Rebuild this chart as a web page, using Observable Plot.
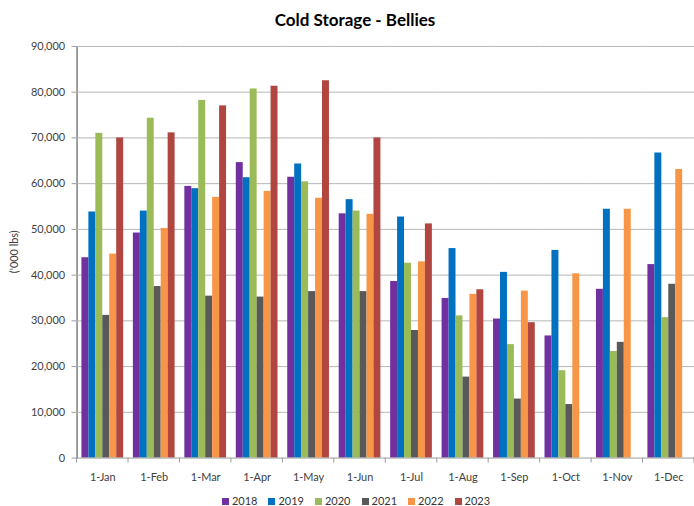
<!DOCTYPE html>
<html><head><meta charset="utf-8">
<script src="https://cdn.jsdelivr.net/npm/d3@7"></script>
<script src="https://cdn.jsdelivr.net/npm/@observablehq/plot@0.6"></script>
<style>
body{margin:0;background:#fff;overflow:hidden;font-family:Lato,"Open Sans",sans-serif;}
#title{width:694px;height:36px;line-height:40px;text-align:center;padding-left:16px;box-sizing:border-box;font-weight:bold;font-size:17px;color:#000;}
#chart svg{display:block;}
#legend{width:694px;padding-left:18px;box-sizing:border-box;display:flex;justify-content:center;gap:11px;font-size:11px;color:#333;height:16px;line-height:16px;margin-top:6px;}
#legend span.item{display:flex;align-items:center;gap:3px;}
#legend span.sw{width:7px;height:7px;display:inline-block;}
</style></head><body>
<div id="title">Cold Storage - Bellies</div>
<div id="chart"></div>
<div id="legend"></div>
<script>
const months = ["1-Jan","1-Feb","1-Mar","1-Apr","1-May","1-Jun","1-Jul","1-Aug","1-Sep","1-Oct","1-Nov","1-Dec"];
const years = ["2018","2019","2020","2021","2022","2023"];
const v2018 = [43800,49200,59400,64600,61400,53400,38600,34900,30400,26700,36900,42300];
const v2019 = [53800,54000,58900,61300,64300,56500,52700,45800,40600,45400,54400,66700];
const v2020 = [71000,74300,78200,80700,60400,54000,42600,31100,24800,19100,23300,30700];
const v2021 = [31200,37500,35400,35200,36400,36400,27900,17700,12900,11700,25300,38000];
const v2022 = [44600,50200,57000,58300,56800,53300,42900,35800,36500,40300,54400,63100];
const v2023 = [70000,71100,77000,81300,82500,70000,51200,36800,29600,null,null,null];
const colors = ["#7030A0","#0070C0","#9BBB59","#595959","#F79646","#B0463F"];
const yTicks = [0,10000,20000,30000,40000,50000,60000,70000,80000,90000];
const yLabel = "('000 lbs)";

const series = [v2018,v2019,v2020,v2021,v2022,v2023];
const data = [];
years.forEach((yr,j) => months.forEach((m,i) => {
  const v = series[j][i];
  if (v != null) data.push({month: m, year: yr, value: v});
}));

const chart = Plot.plot({
  width: 698, height: 454,
  marginTop: 10, marginBottom: 30, marginLeft: 77, marginRight: 0,
  style: {fontFamily: "Lato, 'Open Sans', sans-serif", fontSize: "11px", color: "#404040", background: "#fff"},
  facet: {data, x: "month"},
  fx: {domain: months, padding: 0, round: false, label: null, tickSize: 0, tickPadding: 15, axis: "bottom"},
  x: {domain: years, axis: null, round: false, paddingInner: 0, paddingOuter: 0.7},
  y: {domain: [0, 90000], ticks: yTicks, tickFormat: d3.format(","), label: null,
      tickSize: 5, tickPadding: 7, line: true},
  color: {domain: years, range: colors},
  marks: [
    Plot.ruleY(yTicks.slice(1), {stroke: "#b5b5b5", strokeWidth: 1}),
    Plot.barY(data, {x: "year", y: "value", fill: "year"}),
    Plot.ruleY([0], {stroke: "#9a9a9a"})
  ]
});

// boundary tick marks on the category axis, positioned from the fx scale
const fx = chart.scale("fx");
const yS = chart.scale("y");
const y0 = yS.apply(0);
const svg = d3.select(chart);
const g = svg.append("g").attr("stroke", "#9a9a9a");
const bounds = months.map(m => fx.apply(m));
bounds.push(fx.apply(months[months.length - 1]) + fx.bandwidth);
bounds.forEach(x => g.append("line").attr("x1", x).attr("x2", x).attr("y1", y0).attr("y2", y0 + 5));
svg.selectAll("g[aria-label^='y-axis'] line, g[aria-label^='y-axis'] path").attr("stroke", "#9a9a9a");
// y-axis title, centred on the y range
const yMid = (yS.apply(0) + yS.apply(90000)) / 2;
svg.append("text").attr("transform", `translate(15,${yMid}) rotate(-90)`)
  .attr("text-anchor", "middle").attr("dominant-baseline", "middle")
  .attr("fill", "#404040").style("font-size", "11px").text(yLabel);

document.getElementById("chart").appendChild(chart);

const legend = d3.select("#legend");
years.forEach((yr, j) => {
  const it = legend.append("span").attr("class", "item");
  it.append("span").attr("class", "sw").style("background", colors[j]);
  it.append("span").text(yr);
});
</script>
</body></html>
